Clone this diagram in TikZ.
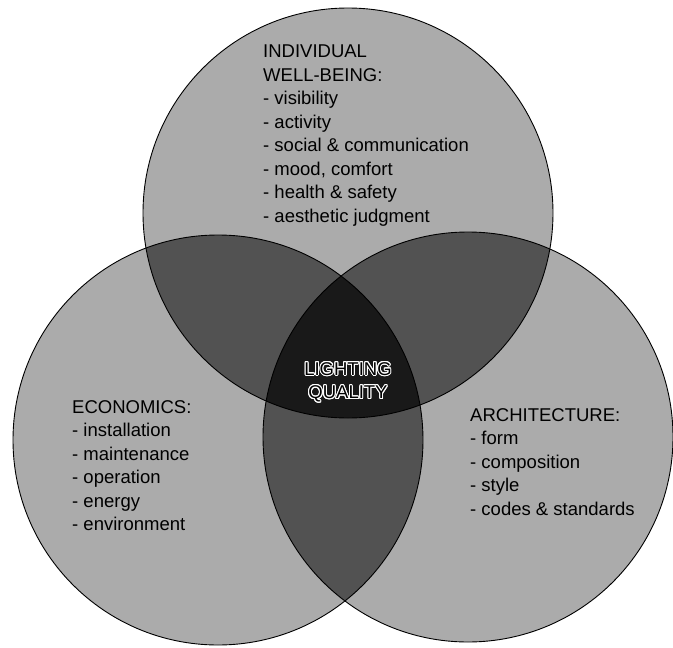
\documentclass[tikz,border=0pt]{standalone}
\usepackage{fontspec}
\setmainfont{Liberation Sans}
\usepackage{contour}
\contourlength{1pt}
\usetikzlibrary{positioning}

\begin{document}
\begin{tikzpicture}[x=1pt,y=-1pt,font=\fontsize{18.5}{23.5}\selectfont,
  txt/.style={align=left,anchor=north west,inner sep=0pt},
  ring/.style={draw=black,line width=0.9pt}]
  \useasboundingbox (0,0) rectangle (673,648);
  \def\rad{205pt}
  \coordinate (wb) at (348,213);
  \coordinate (ec) at (218,440);
  \coordinate (ar) at (468,437);
  % one circle
  \foreach \c in {wb,ec,ar} \fill[black!33] (\c) circle[radius=\rad];
  % two circles
  \begin{scope}
    \clip (wb) circle[radius=\rad];
    \fill[black!68] (ec) circle[radius=\rad];
    \fill[black!68] (ar) circle[radius=\rad];
  \end{scope}
  \begin{scope}
    \clip (ec) circle[radius=\rad];
    \fill[black!68] (ar) circle[radius=\rad];
  \end{scope}
  % all three
  \begin{scope}
    \clip (wb) circle[radius=\rad];
    \clip (ec) circle[radius=\rad];
    \fill[black!90] (ar) circle[radius=\rad];
  \end{scope}
  \foreach \c in {wb,ec,ar} \draw[ring] (\c) circle[radius=\rad];
  \node[txt] (wbtext) at (263,45) {INDIVIDUAL\\WELL-BEING:\\- visibility\\- activity\\- social \& communication\\- mood, comfort\\- health \& safety\\- aesthetic judgment};
  \node[txt] (ectext) at (72,400) {ECONOMICS:\\- installation\\- maintenance\\- operation\\- energy\\- environment};
  \node[txt] (artext) at (470,408) {ARCHITECTURE:\\- form\\- composition\\- style\\- codes \& standards};
  \node[txt,align=center,anchor=north] (lq) at (348,362) {\contour{white}{LIGHTING}\\\contour{white}{QUALITY}};
\end{tikzpicture}
\end{document}
